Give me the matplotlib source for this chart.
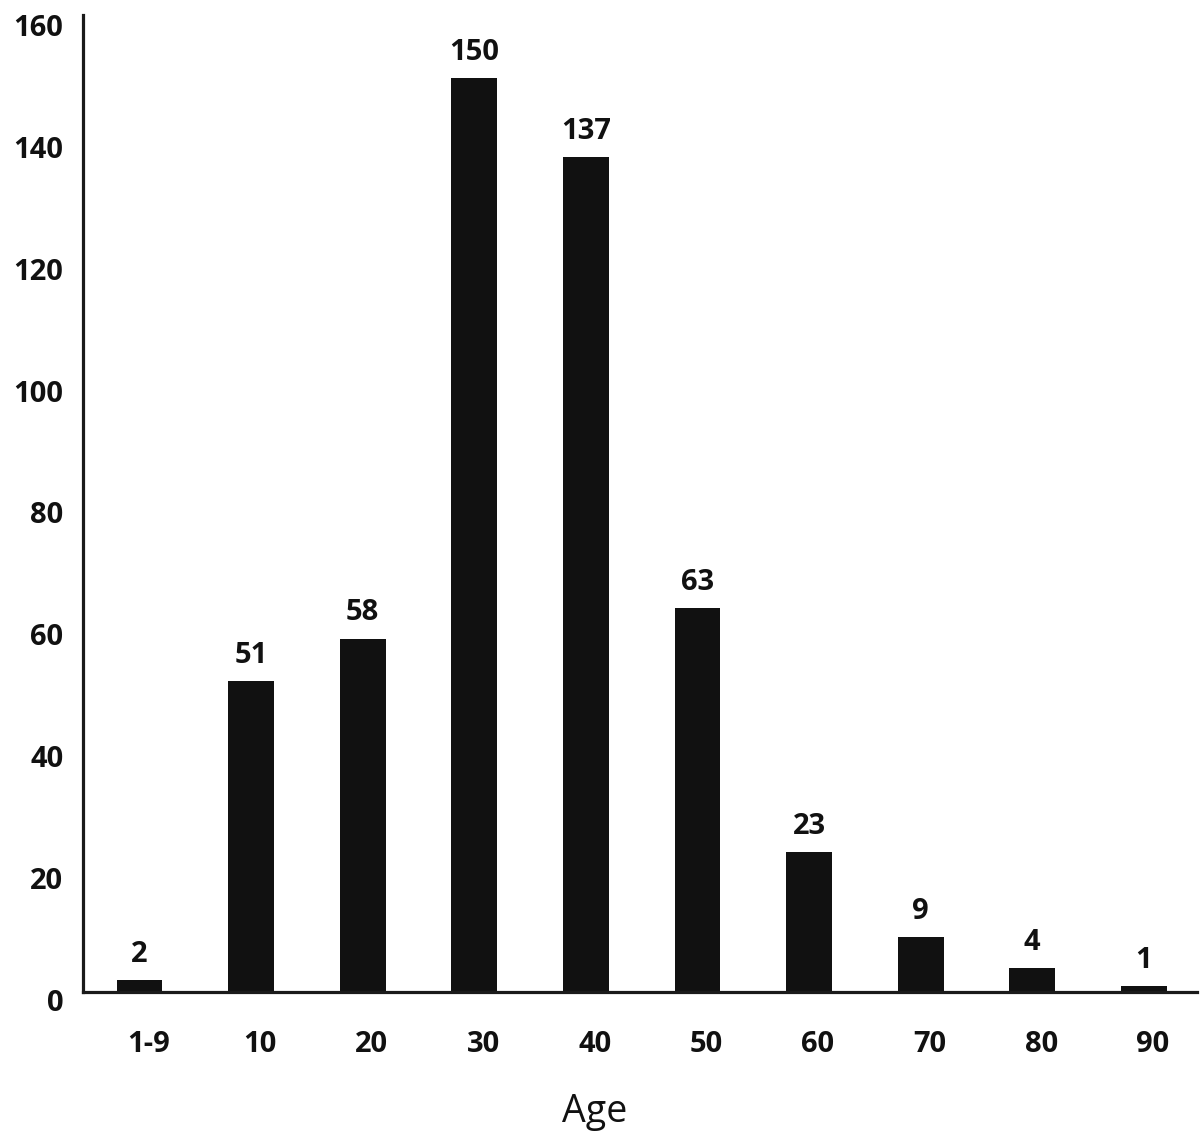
import matplotlib
matplotlib.use("Agg")
import matplotlib.pyplot as plt
import matplotlib.transforms as mtransforms

categories = ["1-9", "10", "20", "30", "40", "50", "60", "70", "80", "90"]
counts = [2, 51, 58, 150, 137, 63, 23, 9, 4, 1]
yticks = [0, 20, 40, 60, 80, 100, 120, 140, 160]

plt.rcParams['font.family'] = ['Open Sans', 'DejaVu Sans']

fig = plt.figure(figsize=(12, 11.43), dpi=100)
ax = fig.add_axes([83/1200, 1-992/1143, (1197-83)/1200, (992-15)/1143])

x = list(range(len(categories)))
ax.bar(x, counts, width=0.41, color='#111111')
for xi, v in zip(x, counts):
    ax.annotate(str(v), (xi, v), xytext=(0, 8), textcoords='offset points',
                ha='center', va='bottom', fontsize=21, fontweight='bold', color='#111111')

ax.set_xlim(-0.506, 9.476)
ax.set_ylim(0, 160.3)
ax.set_yticks(yticks)
ax.set_yticklabels([str(t) for t in yticks], fontsize=21, fontweight='bold')
ax.set_xticks([xi + 0.08 for xi in x])
ax.set_xticklabels(categories, fontsize=21, fontweight='bold')
ax.tick_params(axis='y', length=0, pad=14, colors='#111111')
ax.tick_params(axis='x', length=0, pad=27, colors='#111111')
for lbl in ax.get_yticklabels():
    lbl.set_transform(lbl.get_transform() + mtransforms.ScaledTranslation(0, -0.08, fig.dpi_scale_trans))

for s in ['top', 'right']:
    ax.spines[s].set_visible(False)
for s in ['left', 'bottom']:
    ax.spines[s].set_linewidth(2.3)
    ax.spines[s].set_color('#1a1a1a')

fig.text(595/1200, 1-1112/1143, "Age", ha='center', va='center', fontsize=27, color='#111111')

fig.savefig("out.png", dpi=100)
